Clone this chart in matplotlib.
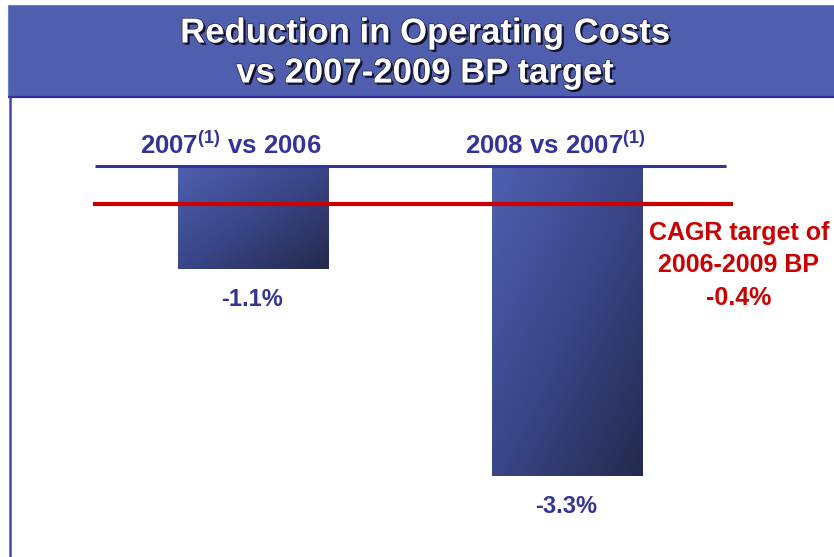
import numpy as np
import matplotlib.pyplot as plt
import matplotlib.patheffects as pe
from matplotlib.colors import LinearSegmentedColormap
from matplotlib.patches import Rectangle

plt.rcParams['font.family'] = ['Liberation Sans', 'DejaVu Sans']
plt.rcParams['font.weight'] = 'bold'
plt.rcParams['mathtext.fontset'] = 'custom'
plt.rcParams['mathtext.rm'] = 'Liberation Sans:bold'
plt.rcParams['mathtext.bf'] = 'Liberation Sans:bold'
plt.rcParams['mathtext.it'] = 'Liberation Sans:bold'

# data
title_lines = ["Reduction in Operating Costs", "vs 2007-2009 BP target"]
categories = [r"2007$^{\mathbf{(1)}}$ vs 2006", r"2008 vs 2007$^{\mathbf{(1)}}$"]
values = [-1.1, -3.3]
value_labels = ["-1.1%", "-3.3%"]
target = -0.4
target_lines = ["CAGR target of", "2006-2009 BP", "-0.4%"]

NAVY = "#333399"
RED = "#CC0000"
BANNER = "#4F5FAE"

W, H = 834, 557
fig = plt.figure(figsize=(W / 100, H / 100), dpi=100)

# background: banner + frame, in pixel coords
bg = fig.add_axes([0, 0, 1, 1])
bg.set_xlim(0, W)
bg.set_ylim(H, 0)
bg.axis("off")
bg.add_patch(Rectangle((8, 5), W, 91, facecolor=BANNER, edgecolor="#7080C8", lw=0.8))
bg.plot([8, W], [96.5, 96.5], color="#2E2E9C", lw=1.6, solid_capstyle="butt")
bg.plot([10.5, 10.5], [97, H], color="#4444B4", lw=1.8, solid_capstyle="butt")
shadow = [pe.SimplePatchShadow(offset=(1.6, -1.6), shadow_rgbFace="#10102a", alpha=1.0),
          pe.Stroke(linewidth=1.0, foreground="#202050"),
          pe.Normal()]
for k, line in enumerate(title_lines):
    bg.text(425, 33 + 40 * k, line, ha="center", va="center", color="white",
            fontsize=25, fontweight="bold", path_effects=shadow)

# chart axes: x = category index, y = percent
PX_X = 314.0      # pixels between bar centres
X0 = 253.5        # pixel of first bar centre
PX_Y = 94.0       # pixels per percent
Y0 = 166.0        # pixel of zero line
ax = fig.add_axes([0, 0, 1, 1])
ax.patch.set_alpha(0)
ax.axis("off")

idx = np.arange(len(values))
bars = ax.bar(idx, values, width=151 / PX_X, color="none", zorder=2)

cmap = LinearSegmentedColormap.from_list("bar", ["#4F60B0", "#3A4688", "#242A4C"])
u, v = np.meshgrid(np.linspace(0, 1, 200), np.linspace(0, 1, 200))
grad = (u + v) / 2  # top-left light -> bottom-right dark
for b in bars:
    x0, y0 = b.get_x(), b.get_y()
    w, h = b.get_width(), b.get_height()
    im = ax.imshow(grad, cmap=cmap, extent=[x0, x0 + w, y0 + h, y0], origin="upper",
                   aspect="auto", zorder=2, interpolation="bilinear")
    im.set_clip_path(b)

ax.set_xlim(-X0 / PX_X, (W - X0) / PX_X)
ax.set_ylim(-(H - Y0) / PX_Y, Y0 / PX_Y)

# zero line and target line
ax.plot([(95 - X0) / PX_X, (726 - X0) / PX_X], [0, 0], color=NAVY, lw=2.2,
        solid_capstyle="butt", zorder=3)
ax.plot([(93 - X0) / PX_X, (733 - X0) / PX_X], [target, target], color=RED, lw=3.0,
        solid_capstyle="butt", zorder=4)

# labels
cat_dx = [-23, -12]
for i, (cat, val, lab) in enumerate(zip(categories, values, value_labels)):
    ax.annotate(cat, xy=(i, 0), xytext=(cat_dx[i] * 0.72, 21 * 0.72),
                textcoords="offset points", ha="center", va="center",
                color=NAVY, fontsize=18.5, fontweight="bold")
    ax.annotate(lab, xy=(i, val), xytext=(-1 * 0.72, -30 * 0.72),
                textcoords="offset points", ha="center", va="center",
                color=NAVY, fontsize=17, fontweight="bold")

for k, line in enumerate(target_lines):
    ax.annotate(line, xy=((739 - X0) / PX_X, target), xytext=(0, -(29 + 32.5 * k) * 0.72),
                textcoords="offset points", ha="center", va="center", color=RED,
                fontsize=18, fontweight="bold", annotation_clip=False)

fig.savefig("out.png", dpi=100)
